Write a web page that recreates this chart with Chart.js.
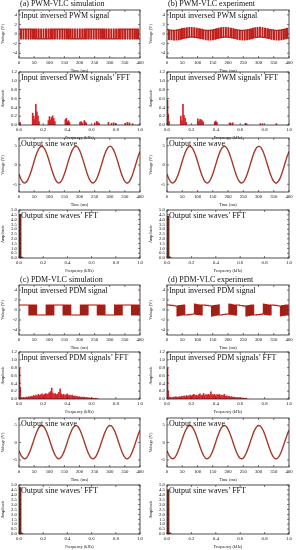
<!DOCTYPE html>
<html><head><meta charset="utf-8">
<script src="https://cdn.jsdelivr.net/npm/chart.js@4.4.1/dist/chart.umd.min.js"></script>
<style>
html,body{margin:0;padding:0;background:#fff;}
#fig{position:relative;width:296px;height:550px;overflow:hidden;font-family:"Liberation Serif","Times New Roman",serif;}
canvas{position:absolute;}
.ttl,.lab{position:absolute;font-size:8px;line-height:8px;white-space:nowrap;color:#111;}
</style></head><body><div id="fig"></div>
<script>
// ---------------- tick labels ----------------
const timeTicks = [0,50,100,150,200,250,300,350,400];
const freqTicks = [0,0.2,0.4,0.6,0.8,1.0];
const signalTicks = [-4,-2,0,2,4];
const sineTicks = [-5,0,5];
const fftTicks = [0,0.2,0.4,0.6,0.8,1.0,1.2];
const sineFftTicks = [0,0.5,1,1.5,2,2.5,3,3.5,4,4.5,5];

// ---------------- PWM input (ms) ----------------
const pwmRiseMs = [0,8,16,24,32,40,48,56,64,72,80,88,96,104,112,120,128,136,144,152,160,168,176,184,192,200,208,216,224,232,240,248,256,264,272,280,288,296,304,312,320,328,336,344,352,360,368,376,384,392];
const pwmFallMs = [5.0,13.6,21.9,29.9,37.4,44.7,51.8,59.0,66.3,74.0,82.1,90.5,99.1,108.0,116.5,125.5,133.9,141.9,149.5,156.8,163.9,171.1,178.4,186.0,194.1,202.4,211.1,219.9,228.8,237.5,245.9,253.9,261.5,268.9,276.1,283.2,290.5,298.1,306.0,314.4,323.0,331.9,340.8,349.4,357.8,365.9,373.6,380.9,388.1,395.3];
const pwmSimHigh = [1.0];
const pwmSimLow = [-1.0];
const pwmExpHigh = [0.9,0.83,0.76,0.78,0.84,0.95,1.1,1.2,1.3,1.35,1.33,1.28,1.2,1.05,0.97,0.82,0.78,0.76,0.82,0.93,1.08,1.2,1.29,1.35,1.34,1.28,1.19,1.07,0.93,0.83,0.76,0.77,0.82,0.91,1.03,1.17,1.28,1.34,1.36,1.29,1.2,1.07,0.93,0.84,0.78,0.76,0.81,0.91,1.04,1.16];
const pwmExpLow = [-1.1,-1.19,-1.24,-1.23,-1.16,-1.05,-0.92,-0.8,-0.69,-0.65,-0.66,-0.72,-0.81,-0.95,-1.03,-1.18,-1.24,-1.23,-1.18,-1.07,-0.93,-0.81,-0.71,-0.65,-0.66,-0.71,-0.81,-0.93,-1.07,-1.18,-1.24,-1.24,-1.18,-1.09,-0.97,-0.83,-0.72,-0.66,-0.65,-0.71,-0.8,-0.93,-1.07,-1.16,-1.22,-1.24,-1.19,-1.09,-0.97,-0.84];

// ---------------- PDM input ----------------
const pdmSimStart = 1.0;
const pdmSimEdgesMs = [33,34.5,36,37,39,40,42,43,45,46.5,48,50,51,53.5,54.5,57,58,
 90,91,93,94,96,97.5,99,100.5,102,103.5,105,107,108,110.5,111.5,114,115,
 146,147.5,149,150,152,153,155,156.5,158,159.5,161,163,164,166.5,167.5,170,171,
 203,204,206,207,209,210.5,212,213.5,215,216.5,218,220,221,223.5,224.5,227,228,
 259,260.5,262,263,265,266,268,269.5,271,272.5,274,276,277,279.5,280.5,283,284,
 316,317,319,320,322,323.5,325,326.5,328,329.5,331,333,334,336.5,337.5,340,341,
 372,373.5,375,376,378,379,381,382.5,384,385.5,387,389,390,392.5,393.5,396,397];
const pdmExpTimeMs = [0,10,20,28,
 33,34.5,36,37,39,40,42,43,45,46.5,48,50,51,53.5,54.5,57,58, 68,78,86,
 90,91,93,94,96,97.5,99,100.5,102,103.5,105,107,108,110.5,111.5,114,115, 125,135,142,
 146,147.5,149,150,152,153,155,156.5,158,159.5,161,163,164,166.5,167.5,170,171, 181,191,199,
 203,204,206,207,209,210.5,212,213.5,215,216.5,218,220,221,223.5,224.5,227,228, 238,248,255,
 259,260.5,262,263,265,266,268,269.5,271,272.5,274,276,277,279.5,280.5,283,284, 294,304,312,
 316,317,319,320,322,323.5,325,326.5,328,329.5,331,333,334,336.5,337.5,340,341, 351,361,368,
 372,373.5,375,376,378,379,381,382.5,384,385.5,387,389,390,392.5,393.5,396,397, 400];
const pdmExpVolt = [1.0,0.92,0.85,0.8,
 -1.2,0.8,-1.15,0.85,-1.1,0.9,-1.05,0.9,-1.05,0.95,-1.0,0.95,-1.0,1.0,-1.0,1.0,-1.0, -0.92,-0.85,-0.8,
 1.2,-0.8,1.15,-0.85,1.1,-0.9,1.05,-0.9,1.05,-0.95,1.0,-0.95,1.0,-1.0,1.0,-1.0,1.0, 0.92,0.85,0.8,
 -1.22,0.78,-1.15,0.85,-1.12,0.88,-1.08,0.9,-1.05,0.95,-1.02,0.95,-1.0,1.0,-0.98,1.02,-1.0, -0.9,-0.84,-0.8,
 1.18,-0.82,1.15,-0.85,1.12,-0.88,1.06,-0.9,1.04,-0.95,1.0,-0.96,1.0,-1.0,0.98,-1.02,1.0, 0.9,0.84,0.79,
 -1.2,0.8,-1.16,0.84,-1.1,0.9,-1.08,0.9,-1.05,0.94,-1.04,0.96,-1.0,1.0,-1.0,1.0,-1.0, -0.92,-0.86,-0.8,
 1.2,-0.8,1.14,-0.86,1.1,-0.9,1.06,-0.92,1.04,-0.94,1.0,-0.96,1.0,-0.98,1.0,-1.0,1.0, 0.92,0.85,0.8,
 -1.2,0.8,-1.15,0.85,-1.1,0.9,-1.06,0.9,-1.05,0.95,-1.02,0.96,-1.0,1.0,-1.0,1.0,-1.0, -0.95];

// ---------------- output sine (ms, V) ----------------
const sineTimeMs = [0,5,10,15,20,25,30,35,40,45,50,55,60,65,70,75,80,85,90,95,100,105,110,115,120,125,130,135,140,145,150,155,160,165,170,175,180,185,190,195,200,205,210,215,220,225,230,235,240,245,250,255,260,265,270,275,280,285,290,295,300,305,310,315,320,325,330,335,340,345,350,355,360,365,370,375,380,385,390,395,400];
const outputSineV = [-2.35,-3.37,-4.13,-4.56,-4.63,-4.34,-3.71,-2.78,-1.64,-0.36,0.96,2.2,3.29,4.13,4.67,4.85,4.67,4.13,3.29,2.2,0.96,-0.36,-1.64,-2.78,-3.71,-4.34,-4.63,-4.56,-4.13,-3.37,-2.35,-1.14,0.17,1.47,2.67,3.66,4.39,4.78,4.82,4.49,3.83,2.88,1.72,0.43,-0.89,-2.12,-3.19,-4.0,-4.5,-4.65,-4.43,-3.86,-2.99,-1.88,-0.62,0.7,1.96,3.1,3.99,4.59,4.84,4.73,4.26,3.48,2.43,1.2,-0.11,-1.4,-2.58,-3.55,-4.25,-4.61,-4.6,-4.24,-3.54,-2.56,-1.38,-0.08,1.23,2.45,3.49];

// ---------------- FFTs (kHz, amplitude) ----------------
const pwmSimFftKHz = [0.009,0.113,0.122,0.131,0.139,0.148,0.157,0.165,0.243,0.252,0.261,0.27,0.278,0.287,0.296,0.383,0.391,0.4,0.409,0.417,0.504,0.513,0.522,0.539,0.548,0.556,0.626,0.643,0.652,0.661,0.739,0.765,0.783,0.8,0.878,0.896,0.913,0.939];
const pwmSimFftAmp = [0.06,0.27,0.2,0.12,0.47,0.3,0.2,0.08,0.1,0.19,0.12,0.17,0.21,0.15,0.08,0.12,0.15,0.08,0.1,0.06,0.06,0.08,0.05,0.1,0.07,0.04,0.05,0.08,0.06,0.04,0.06,0.04,0.05,0.03,0.04,0.06,0.05,0.03];
const pwmExpFftKHz = [0.004,0.009,0.017,0.113,0.122,0.131,0.139,0.148,0.157,0.252,0.261,0.27,0.278,0.287,0.296,0.391,0.4,0.409,0.513,0.522,0.539,0.643,0.652,0.765,0.783,0.896];
const pwmExpFftAmp = [0.57,0.25,0.08,0.2,0.1,0.47,0.22,0.15,0.06,0.14,0.08,0.12,0.12,0.1,0.07,0.07,0.09,0.06,0.05,0.04,0.05,0.04,0.03,0.03,0.03,0.03];
const pdmFftKHz = [0.004,0.01,0.02,0.03,0.04,0.05,0.06,0.07,0.08,0.09,0.10,0.11,0.12,0.13,0.14,0.15,0.16,0.17,0.18,0.19,0.20,0.21,0.22,0.23,0.24,0.25,0.26,0.27,0.28,0.29,0.30,0.31,0.32,0.33,0.34,0.35,0.36,0.37,0.38,0.39,0.40,0.41,0.42,0.43,0.44,0.45,0.46,0.47,0.48,0.49,0.50,0.51,0.52,0.53,0.54,0.55,0.56,0.57,0.58,0.59,0.60,0.61,0.62,0.63,0.64,0.65];
const pdmSimFftAmp = [0.78,0.3,0.04,0.03,0.04,0.03,0.05,0.04,0.06,0.05,0.07,0.06,0.09,0.07,0.1,0.08,0.12,0.09,0.11,0.13,0.1,0.12,0.14,0.11,0.13,0.16,0.19,0.28,0.15,0.12,0.14,0.11,0.13,0.17,0.26,0.13,0.1,0.12,0.09,0.11,0.13,0.09,0.1,0.08,0.1,0.07,0.08,0.06,0.07,0.05,0.06,0.04,0.05,0.04,0.05,0.03,0.04,0.03,0.03,0.02,0.03,0.02,0.02,0.02,0.01,0.01];
const pdmExpFftAmp = [0.78,0.2,0.05,0.04,0.03,0.05,0.04,0.06,0.05,0.04,0.06,0.05,0.07,0.06,0.08,0.06,0.09,0.07,0.08,0.1,0.08,0.1,0.12,0.09,0.1,0.08,0.11,0.13,0.09,0.1,0.14,0.09,0.11,0.1,0.12,0.1,0.18,0.11,0.1,0.12,0.09,0.11,0.1,0.12,0.08,0.1,0.09,0.12,0.07,0.08,0.06,0.07,0.05,0.06,0.04,0.05,0.04,0.03,0.04,0.03,0.03,0.02,0.03,0.02,0.02,0.02];
const sineFftKHz = [0.004,0.009,0.017,0.026];
const pwmSimSineFftAmp = [0.3,4.55,0.12,0.04];
const pwmExpSineFftAmp = [0.3,4.35,0.15,0.05];
const pdmSimSineFftAmp = [0.3,4.75,0.12,0.04];
const pdmExpSineFftAmp = [0.3,4.5,0.15,0.05];

// ---------------- helpers ----------------
const RED = '#e3201f', DARK = 'rgba(70,40,20,0.55)', SINE = '#a53a2a', SPIKE = '#d62228';
Chart.defaults.font.family = '"Liberation Serif","Times New Roman",serif';
Chart.defaults.color = '#111';
const fig = document.getElementById('fig');
const COLS = [{x:0, left:19, right:140}, {x:148, left:167, right:289}];
const ROWS = [[10,58],[72,125],[138,192],[210,258],[285,335],[352,399],[418,467],[485,534]];
const PADT = 6, XAX = 15, CW = 148;

function pick(a, i) { return a[Math.min(i, a.length - 1)]; }
function pwmPoints(rise, fall, high, low) {
  const pts = [];
  for (let k = 0; k < rise.length; k++) {
    pts.push({x: rise[k], y: pick(high, k)});
    pts.push({x: fall[k], y: pick(low, k)});
  }
  pts.push({x: 400, y: pick(low, rise.length - 1)});
  return pts;
}
function edgePoints(start, edges) {
  const pts = [{x: 0, y: start}];
  let lv = start;
  for (const t of edges) { lv = -lv; pts.push({x: t, y: lv}); }
  pts.push({x: 400, y: lv});
  return pts;
}
function xyPoints(xs, ys) { return xs.map((x, i) => ({x, y: ys[i]})); }
function signalSets(pts) {
  return [
    {data: pts, stepped: true, borderColor: RED, borderWidth: 1.2, pointRadius: 0, order: 2},
    {data: pts, stepped: true, borderColor: DARK, borderWidth: 0.45, pointRadius: 0, order: 1}
  ];
}
function barSets(pts, color, w) {
  return [{type: 'bar', data: pts, backgroundColor: color, barThickness: w, borderWidth: 0}];
}

const frame = {
  id: 'frame',
  afterDatasetsDraw(c) {
    const {ctx, chartArea: a, scales: {x, y}} = c;
    ctx.save();
    ctx.strokeStyle = '#222'; ctx.lineWidth = 0.8;
    ctx.strokeRect(a.left, a.top, a.right - a.left, a.bottom - a.top);
    ctx.lineWidth = 0.6;
    ctx.beginPath();
    x.ticks.forEach(t => { const p = x.getPixelForValue(t.value);
      ctx.moveTo(p, a.bottom); ctx.lineTo(p, a.bottom - 2);
      ctx.moveTo(p, a.top); ctx.lineTo(p, a.top + 2); });
    y.ticks.forEach(t => { const p = y.getPixelForValue(t.value);
      ctx.moveTo(a.left, p); ctx.lineTo(a.left + 2, p);
      ctx.moveTo(a.right, p); ctx.lineTo(a.right - 2, p); });
    ctx.stroke();
    ctx.restore();
  }
};

function makePanel(col, row, o) {
  const c = COLS[col], r = ROWS[row];
  const cv = document.createElement('canvas');
  const h = r[1] - r[0] + PADT + XAX;
  cv.width = CW; cv.height = h;
  cv.style.left = c.x + 'px'; cv.style.top = (r[0] - PADT) + 'px';
  cv.style.width = CW + 'px'; cv.style.height = h + 'px';
  fig.appendChild(cv);
  const L = c.left - c.x, R = c.x + CW - c.right;
  new Chart(cv, {
    type: o.type || 'line',
    data: {datasets: o.datasets},
    options: {
      responsive: false, animation: false, devicePixelRatio: 1,
      layout: {padding: {top: PADT, right: R, left: 0, bottom: 0}},
      plugins: {legend: {display: false}, tooltip: {enabled: false}},
      elements: {line: {tension: o.tension || 0}},
      scales: {
        x: {type: 'linear', min: o.xmin, max: o.xmax, offset: false,
          afterFit: s => { s.height = XAX; },
          afterBuildTicks: s => { s.ticks = o.xticks.map(v => ({value: v})); },
          grid: {display: false, drawTicks: false, tickLength: 0}, border: {display: false},
          ticks: {padding: 2, autoSkip: false, maxRotation: 0, font: {size: 4.8}, color: '#111', callback: o.xfmt},
          title: {display: true, text: o.xtitle, font: {size: 4.2}, padding: 0, color: '#111'}},
        y: {type: 'linear', min: o.ymin, max: o.ymax,
          afterFit: s => { s.width = L; },
          afterBuildTicks: s => { s.ticks = o.yticks.map(v => ({value: v})); },
          grid: {display: false, drawTicks: false, tickLength: 0}, border: {display: false},
          ticks: {padding: 2, autoSkip: false, font: {size: 4.8}, color: '#111', callback: o.yfmt},
          title: {display: true, text: o.ytitle, font: {size: 4.2}, padding: 0, color: '#111'}}
      }
    },
    plugins: [frame]
  });
}
function addText(cls, txt, x, y) {
  const d = document.createElement('div');
  d.className = cls; d.textContent = txt;
  d.style.left = x + 'px'; d.style.top = y + 'px';
  fig.appendChild(d);
}

const f1 = v => v.toFixed(1), f0 = v => String(v);
const sig = (col, row, pts) => makePanel(col, row, {datasets: signalSets(pts), xmin: 0, xmax: 400, xticks: timeTicks, xfmt: f0, xtitle: 'Time (ms)', ymin: -5, ymax: 5, yticks: signalTicks, yfmt: f0, ytitle: 'Voltage (V)'});
const fft = (col, row, pts) => makePanel(col, row, {type: 'bar', datasets: barSets(pts, SPIKE, 1), xmin: 0, xmax: 1, xticks: freqTicks, xfmt: f1, xtitle: 'Frequency (kHz)', ymin: 0, ymax: 1.2, yticks: fftTicks, yfmt: f1, ytitle: 'Amplitude'});
const sine = (col, row) => makePanel(col, row, {datasets: [{data: xyPoints(sineTimeMs, outputSineV), borderColor: SINE, borderWidth: 1.4, pointRadius: 0}], tension: 0.4, xmin: 0, xmax: 400, xticks: timeTicks, xfmt: f0, xtitle: 'Time (ms)', ymin: -7, ymax: 7, yticks: sineTicks, yfmt: f0, ytitle: 'Voltage (V)'});
const sfft = (col, row, amp) => makePanel(col, row, {type: 'bar', datasets: barSets(xyPoints(sineFftKHz, amp), '#7a2a1c', 2), xmin: 0, xmax: 1, xticks: freqTicks, xfmt: f1, xtitle: 'Frequency (kHz)', ymin: 0, ymax: 5, yticks: sineFftTicks, yfmt: f1, ytitle: 'Amplitude'});

sig(0, 0, pwmPoints(pwmRiseMs, pwmFallMs, pwmSimHigh, pwmSimLow));
sig(1, 0, pwmPoints(pwmRiseMs, pwmFallMs, pwmExpHigh, pwmExpLow));
fft(0, 1, xyPoints(pwmSimFftKHz, pwmSimFftAmp));
fft(1, 1, xyPoints(pwmExpFftKHz, pwmExpFftAmp));
sine(0, 2); sine(1, 2);
sfft(0, 3, pwmSimSineFftAmp); sfft(1, 3, pwmExpSineFftAmp);
sig(0, 4, edgePoints(pdmSimStart, pdmSimEdgesMs));
sig(1, 4, xyPoints(pdmExpTimeMs, pdmExpVolt));
fft(0, 5, xyPoints(pdmFftKHz, pdmSimFftAmp));
fft(1, 5, xyPoints(pdmFftKHz, pdmExpFftAmp));
sine(0, 6); sine(1, 6);
sfft(0, 7, pdmSimSineFftAmp); sfft(1, 7, pdmExpSineFftAmp);

addText('ttl', '(a) PWM-VLC simulation', 20, 0);
addText('ttl', '(b) PWM-VLC experiment', 168, 0);
addText('ttl', '(c) PDM-VLC simulation', 20, 276);
addText('ttl', '(d) PDM-VLC experiment', 168, 276);
const labels = ['Input inversed PWM signal', 'Input inversed PWM signals’ FFT', 'Output sine wave', 'Output sine waves’ FFT',
  'Input inversed PDM signal', 'Input inversed PDM signals’ FFT', 'Output sine wave', 'Output sine waves’ FFT'];
labels.forEach((t, row) => { addText('lab', t, COLS[0].left + 2, ROWS[row][0] + 2); addText('lab', t, COLS[1].left + 2, ROWS[row][0] + 2); });
</script></body></html>
